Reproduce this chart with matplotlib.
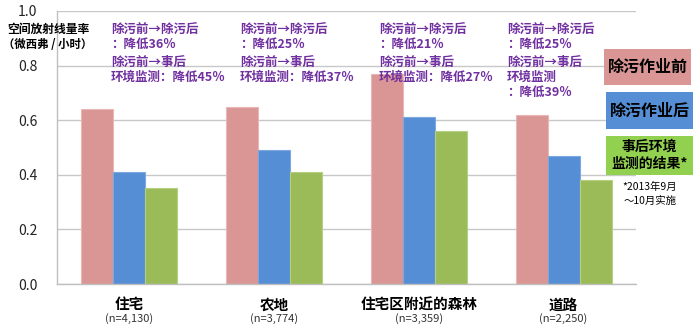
import matplotlib

matplotlib.use("Agg")
import matplotlib.pyplot as plt
import numpy as np

plt.rcParams["font.family"] = ["Noto Sans CJK SC", "DejaVu Sans"]

categories = ["住宅", "农地", "住宅区附近的森林", "道路"]
sample_sizes = ["(n=4,130)", "(n=3,774)", "(n=3,359)", "(n=2,250)"]
before = [0.64, 0.65, 0.77, 0.62]
after = [0.41, 0.49, 0.61, 0.47]
monitoring = [0.35, 0.41, 0.56, 0.38]
series_names = ["除污作业前", "除污作业后", "事后环境\n监测的结果*"]
yticks = [0.0, 0.2, 0.4, 0.6, 0.8, 1.0]

# annotation lines per category
notes = [
    ["除污前→除污后", "：降低36％", "除污前→事后", "环境监测：降低45％"],
    ["除污前→除污后", "：降低25％", "除污前→事后", "环境监测：降低37％"],
    ["除污前→除污后", "：降低21％", "除污前→事后", "环境监测：降低27％"],
    ["除污前→除污后", "：降低25％", "除污前→事后", "环境监测", "：降低39％"],
]
note_x = [111, 240, 379, 507]
note_y = [30, 44, 62, 77, 92]

W, H = 700, 329
fig = plt.figure(figsize=(7.0, 3.29), dpi=100)
ax = fig.add_axes([57 / W, 1 - 284 / H, (636 - 57) / W, (284 - 11) / H])

bar_colors = ["#D99694", "#558ED5", "#9BBB59"]
edge_colors = ["#E8B7B6", "#7DA9E0", "#B5CF83"]
x = np.arange(len(categories))
w = 0.221
for k, vals in enumerate([before, after, monitoring]):
    ax.bar(x + (k - 1) * w, vals, w, color=bar_colors[k],
           edgecolor=edge_colors[k], linewidth=0.8, zorder=2)

ax.set_xlim(-0.5, len(categories) - 0.5)
ax.set_ylim(0, 1.0)
ax.set_yticks(yticks)
ax.set_yticklabels([f"{t:.1f}" for t in yticks], fontsize=10, color="#222222")
ax.yaxis.grid(True, color="#C8C8C8", linewidth=1.0, zorder=0)
ax.set_axisbelow(True)
for s in ["top", "right"]:
    ax.spines[s].set_visible(False)
for s in ["left", "bottom"]:
    ax.spines[s].set_color("#BFBFBF")
    ax.spines[s].set_linewidth(1.0)
ax.tick_params(axis="y", length=0, pad=14)
ax.tick_params(axis="x", length=0)
ax.set_xticks([])

for i, (c, n) in enumerate(zip(categories, sample_sizes)):
    ax.text(i, -0.045, c, ha="center", va="top", fontsize=10.5, fontweight="bold",
            transform=ax.get_xaxis_transform())
    ax.text(i, -0.105, n, ha="center", va="top", fontsize=8, color="#333333",
            transform=ax.get_xaxis_transform())

fig.text(48 / W, 1 - 29 / H, "空间放射线量率", ha="center", va="center",
         fontsize=8.5, fontweight="bold")
fig.text(48 / W, 1 - 44 / H, "（微西弗 / 小时）", ha="center", va="center",
         fontsize=8.2, fontweight="bold")

for lines, px in zip(notes, note_x):
    for line, py in zip(lines, note_y):
        fig.text(px / W, 1 - py / H, line, ha="left", va="center",
                 fontsize=9, fontweight="bold", color="#7030A0")

# legend boxes
leg_colors = ["#D99694", "#558ED5", "#92D050"]
boxes = [(604, 49, 691, 85), (606, 92, 693, 129), (606, 136, 693, 175)]
for (x0, y0, x1, y1), col, name in zip(boxes, leg_colors, series_names):
    fig.patches.append(plt.Rectangle((x0 / W, 1 - y1 / H), (x1 - x0) / W, (y1 - y0) / H,
                                     transform=fig.transFigure, facecolor=col,
                                     edgecolor="none", zorder=3))
    fs = 11.5 if "\n" not in name else 10
    fig.text((x0 + x1) / 2 / W, 1 - (y0 + y1) / 2 / H, name, ha="center", va="center",
             fontsize=fs, fontweight="bold", linespacing=1.3, zorder=4)

fig.text(650 / W, 1 - 194 / H, "*2013年9月\n～10月实施", ha="center", va="center",
         fontsize=7.5, linespacing=1.4)

fig.savefig("out.png", dpi=100)
